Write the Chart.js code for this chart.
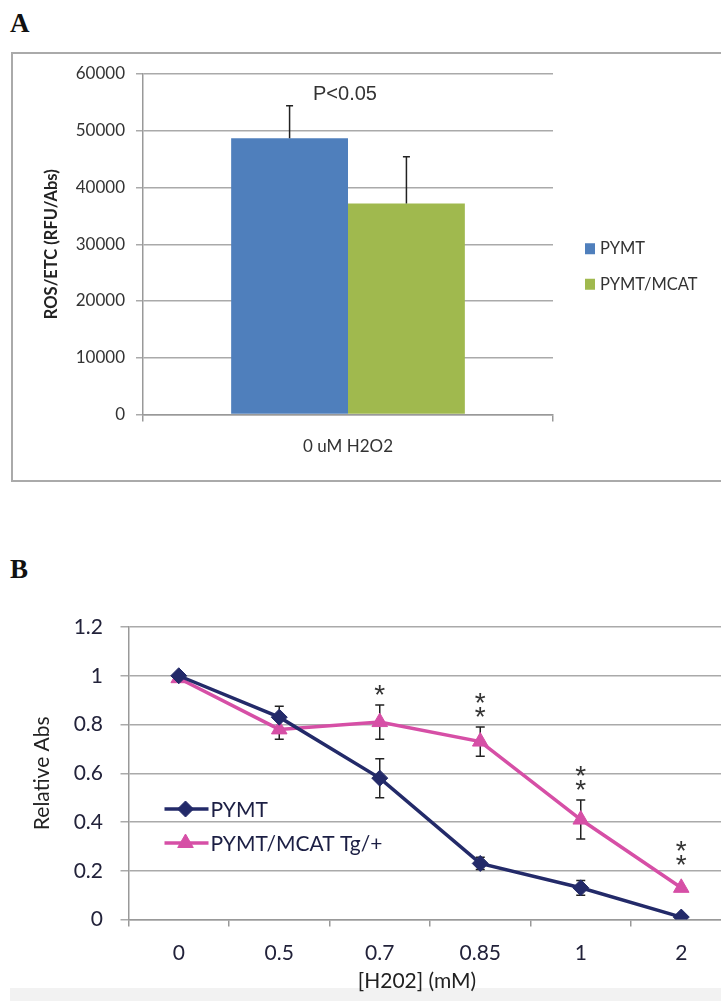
<!DOCTYPE html>
<html>
<head>
<meta charset="utf-8">
<script src="https://cdn.jsdelivr.net/npm/chart.js@4.4.1/dist/chart.umd.min.js"></script>
<style>
  html, body { margin: 0; padding: 0; background: #fff; overflow: hidden; width: 721px; height: 1001px; }
  .panel-label { position: absolute; font-family: "Liberation Serif", "Times New Roman", serif; font-weight: bold; font-size: 27px; line-height: 27px; color: #111; }
  #frameA { position: absolute; left: 11px; top: 52px; width: 720px; height: 426px; border: 2px solid #aaa; border-right: none; }
  #chartA { position: absolute; left: 0; top: 0; }
  #chartB { position: absolute; left: 0; top: 560px; }
  #bandB { position: absolute; left: 10px; top: 988px; width: 711px; height: 13px; background: #f2f2f2; }
</style>
</head>
<body>
<div class="panel-label" style="left:10px; top:10px;">A</div>
<div id="frameA"></div>
<canvas id="chartA" width="721" height="490"></canvas>

<div class="panel-label" style="left:10px; top:556px;">B</div>
<div id="bandB"></div>
<canvas id="chartB" width="745" height="441"></canvas>

<script>
// ---- Panel A data ----
const groupLabelsA = ['0 uM H2O2'];
const seriesNamesA = ['PYMT', 'PYMT/MCAT'];
const rosPymt = [48700];
const rosMcat = [37200];
const rosPymtErr = [5700];
const rosMcatErr = [8200];
const pValueText = 'P<0.05';
const pValueLevel = 56400;

// ---- Panel B data ----
const doseLabels = ['0', '0.5', '0.7', '0.85', '1', '2'];
const seriesNamesB = ['PYMT', 'PYMT/MCAT Tg/+'];
const absPymt = [1.0, 0.83, 0.58, 0.23, 0.13, 0.01];
const absPymtErr = [0, 0.045, 0.08, 0.025, 0.03, 0];
const absMcat = [0.99, 0.78, 0.81, 0.73, 0.41, 0.13];
const absMcatErr = [0, 0.04, 0.07, 0.06, 0.08, 0];
const starCounts = [0, 0, 1, 2, 2, 2];

const blue = '#4f7fbc';
const green = '#a0b94e';
const navy = '#232a69';
const pink = '#d64fa6';
const tickFont = 'Lato';

// error bars for the bar chart (upper half only)
const barErrors = {
  id: 'barErrors',
  afterDatasetsDraw(chart) {
    const ctx = chart.ctx;
    const y = chart.scales.y;
    ctx.save();
    ctx.strokeStyle = '#222';
    ctx.lineWidth = 1.5;
    chart.data.datasets.forEach((ds, i) => {
      chart.getDatasetMeta(i).data.forEach((bar, j) => {
        const top = y.getPixelForValue(ds.data[j] + ds.errors[j]);
        ctx.beginPath();
        ctx.moveTo(bar.x, bar.y);
        ctx.lineTo(bar.x, top);
        ctx.moveTo(bar.x - 3.5, top);
        ctx.lineTo(bar.x + 3.5, top);
        ctx.stroke();
      });
    });
    ctx.restore();
  }
};

// significance label and legend for panel A
const panelANotes = {
  id: 'panelANotes',
  afterDraw(chart) {
    const ctx = chart.ctx;
    const x = chart.scales.x;
    const y = chart.scales.y;
    const area = chart.chartArea;
    ctx.save();
    ctx.fillStyle = '#333';
    ctx.font = '20px "Liberation Sans", Arial, sans-serif';
    ctx.textAlign = 'center';
    ctx.textBaseline = 'middle';
    ctx.fillText(pValueText, x.getPixelForValue(0) - 3, y.getPixelForValue(pValueLevel));

    // legend
    const midY = (area.top + area.bottom) / 2;
    ctx.font = '16.5px ' + tickFont;
    ctx.textAlign = 'left';
    chart.data.datasets.forEach((ds, i) => {
      const cy = midY + 4.5 + i * 35.5;
      ctx.fillStyle = ds.backgroundColor;
      ctx.fillRect(area.right + 32, cy - 5.5, 10, 11);
      ctx.fillStyle = '#333';
      ctx.fillText(ds.label, area.right + 47, cy);
    });
    ctx.restore();
  }
};

new Chart(document.getElementById('chartA'), {
  type: 'bar',
  data: {
    labels: groupLabelsA,
    datasets: [
      { label: seriesNamesA[0], data: rosPymt, errors: rosPymtErr, backgroundColor: blue },
      { label: seriesNamesA[1], data: rosMcat, errors: rosMcatErr, backgroundColor: green }
    ]
  },
  options: {
    responsive: false,
    animation: false,
    layout: { padding: { top: 74, right: 168, bottom: 0, left: 0 } },
    categoryPercentage: 0.57,
    barPercentage: 1.0,
    plugins: { legend: { display: false }, tooltip: { enabled: false } },
    scales: {
      x: {
        afterFit: (s) => { s.height = 75.5; },
        grid: { drawOnChartArea: false, offset: true, tickLength: 7, color: '#999', lineWidth: 1.5 },
        border: { color: '#999', width: 1.5 },
        ticks: { color: '#333', font: { family: tickFont, size: 17 }, padding: 15 }
      },
      y: {
        min: 0,
        max: 60000,
        afterFit: (s) => { s.width = 143; },
        grid: { color: '#aaa', lineWidth: 1.5, tickLength: 7 },
        border: { color: '#999', width: 1.5 },
        ticks: {
          stepSize: 10000,
          color: '#333',
          padding: 11,
          font: { family: tickFont, size: 17 },
          callback: (v) => String(v)
        },
        title: {
          display: true,
          text: 'ROS/ETC (RFU/Abs)',
          color: '#222',
          font: { family: tickFont, size: 16.5, weight: 'bold' },
          padding: { top: 42, bottom: 0 }
        }
      }
    }
  },
  plugins: [barErrors, panelANotes]
});

// error bars for the line chart, drawn under the markers
const lineErrors = {
  id: 'lineErrors',
  beforeDatasetsDraw(chart) {
    const ctx = chart.ctx;
    const y = chart.scales.y;
    ctx.save();
    ctx.strokeStyle = '#222';
    ctx.lineWidth = 1.5;
    chart.data.datasets.forEach((ds, i) => {
      chart.getDatasetMeta(i).data.forEach((pt, j) => {
        const e = ds.errors[j];
        if (!e) return;
        const up = y.getPixelForValue(ds.data[j] + e);
        const dn = y.getPixelForValue(ds.data[j] - e);
        ctx.beginPath();
        ctx.moveTo(pt.x, up);
        ctx.lineTo(pt.x, dn);
        ctx.moveTo(pt.x - 4.5, up);
        ctx.lineTo(pt.x + 4.5, up);
        ctx.moveTo(pt.x - 4.5, dn);
        ctx.lineTo(pt.x + 4.5, dn);
        ctx.stroke();
      });
    });
    ctx.restore();
  }
};

// asterisks, inner legend and axis title for panel B
const panelBNotes = {
  id: 'panelBNotes',
  afterDraw(chart) {
    const ctx = chart.ctx;
    const x = chart.scales.x;
    const y = chart.scales.y;
    const area = chart.chartArea;
    ctx.save();

    ctx.fillStyle = '#333';
    ctx.font = '28px "Liberation Sans", Arial, sans-serif';
    ctx.textAlign = 'center';
    ctx.textBaseline = 'alphabetic';
    starCounts.forEach((n, j) => {
      if (!n) return;
      const e = absMcatErr[j];
      const base = y.getPixelForValue(absMcat[j] + e) - (e ? 17 : 30);
      for (let k = 0; k < n; k++) {
        ctx.fillText('*', x.getPixelForValue(j), base - k * 14 + 16);
      }
    });

    // legend inside the plot
    ctx.font = '21px ' + tickFont;
    ctx.textAlign = 'left';
    ctx.textBaseline = 'middle';
    chart.data.datasets.forEach((ds, i) => {
      const cy = area.top + 182 + i * 34;
      const x0 = area.left + 36;
      ctx.strokeStyle = ds.borderColor;
      ctx.lineWidth = ds.borderWidth;
      ctx.beginPath();
      ctx.moveTo(x0, cy);
      ctx.lineTo(x0 + 44, cy);
      ctx.stroke();
      ctx.fillStyle = ds.backgroundColor;
      ctx.lineWidth = 1;
      Chart.helpers.drawPoint(ctx, {
        pointStyle: ds.pointStyle, radius: ds.pointRadius, rotation: 0, borderWidth: 1
      }, x0 + 21, cy);
      ctx.fillStyle = '#1c1f44';
      ctx.fillText(ds.label, x0 + 46, cy + 1);
    });

    // x-axis title
    ctx.fillStyle = '#222';
    ctx.textAlign = 'center';
    ctx.fillText('[H202] (mM)', 417, 421);
    ctx.restore();
  }
};

new Chart(document.getElementById('chartB'), {
  type: 'line',
  data: {
    labels: doseLabels,
    datasets: [
      {
        label: seriesNamesB[0], data: absPymt, errors: absPymtErr,
        borderColor: navy, backgroundColor: navy, borderWidth: 3.5,
        pointStyle: 'rectRot', pointRadius: 8, pointBorderWidth: 1, tension: 0
      },
      {
        label: seriesNamesB[1], data: absMcat, errors: absMcatErr,
        borderColor: pink, backgroundColor: pink, borderWidth: 3.5,
        pointStyle: 'triangle', pointRadius: 9, pointBorderWidth: 1, tension: 0
      }
    ]
  },
  options: {
    responsive: false,
    animation: false,
    layout: { padding: { top: 67, right: 13.5, bottom: 0, left: 0 } },
    plugins: { legend: { display: false }, tooltip: { enabled: false } },
    scales: {
      x: {
        offset: true,
        afterFit: (s) => { s.height = 81.5; },
        grid: { drawOnChartArea: false, offset: true, tickLength: 7, color: '#999', lineWidth: 1.5 },
        border: { color: '#999', width: 1.5 },
        ticks: { color: '#22223a', font: { family: tickFont, size: 21 }, padding: 14 }
      },
      y: {
        min: 0,
        max: 1.2,
        afterFit: (s) => { s.width = 128.5; },
        grid: { color: '#aaa', lineWidth: 1.5, tickLength: 8 },
        border: { color: '#999', width: 1.5 },
        ticks: {
          stepSize: 0.2,
          color: '#22223a',
          padding: 17.5,
          font: { family: tickFont, size: 21 },
          callback: (v) => String(Number(v.toFixed(1)))
        },
        title: {
          display: true,
          text: 'Relative Abs',
          color: '#222',
          font: { family: tickFont, size: 21 },
          padding: { top: 29.5, bottom: 0 }
        }
      }
    }
  },
  plugins: [lineErrors, panelBNotes]
});
</script>
</body>
</html>
